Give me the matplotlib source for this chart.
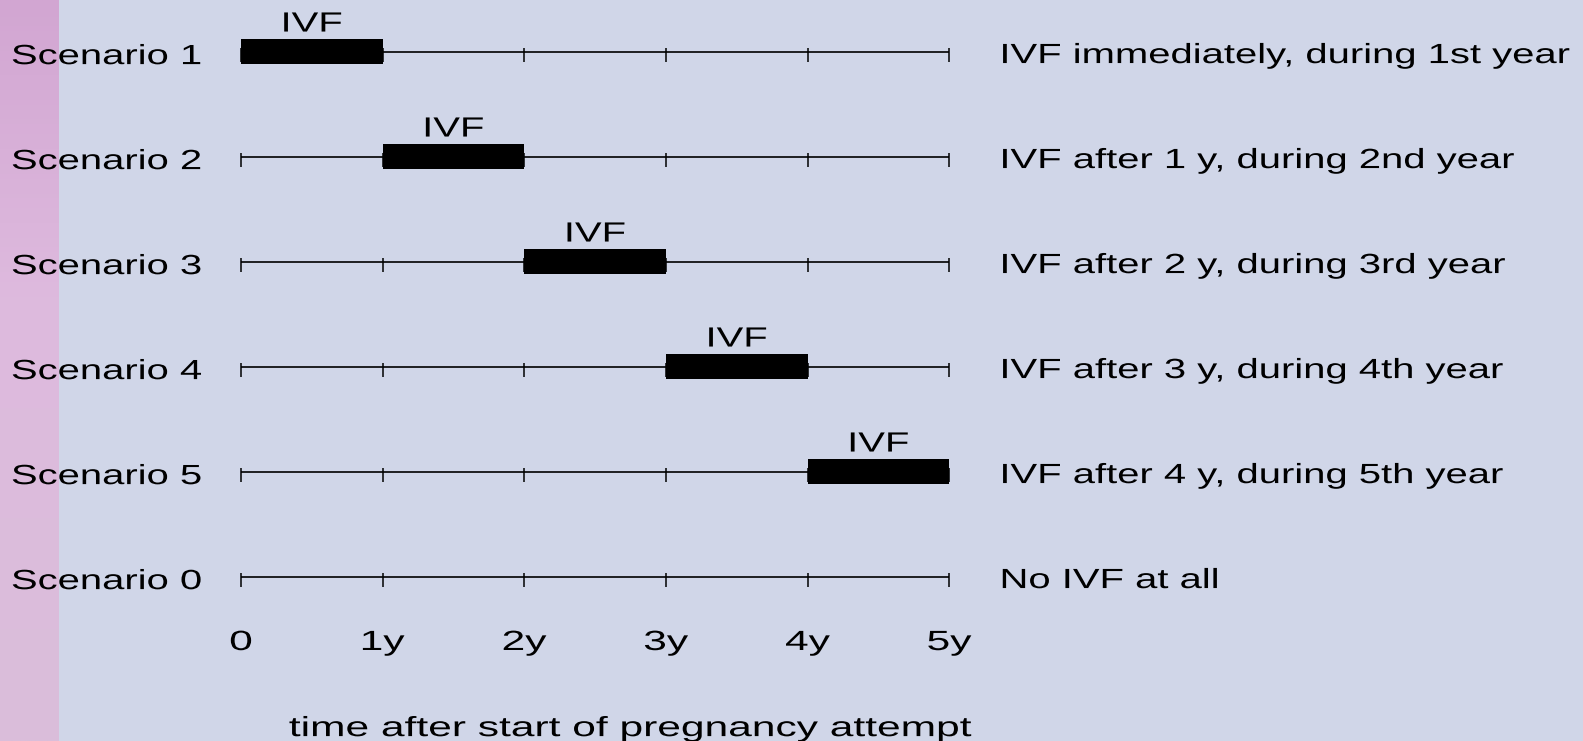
import numpy as np
import matplotlib
matplotlib.use("Agg")
from matplotlib import pyplot as plt
from matplotlib.patheffects import AbstractPathEffect
from matplotlib.transforms import Affine2D

plt.rcParams['font.family'] = ['Liberation Sans', 'DejaVu Sans']

scenarios = ["Scenario 1", "Scenario 2", "Scenario 3", "Scenario 4", "Scenario 5", "Scenario 0"]
ivf_start = [0, 1, 2, 3, 4, None]
ivf_length = 1
descriptions = ["IVF immediately, during 1st year",
                "IVF after 1 y, during 2nd year",
                "IVF after 2 y, during 3rd year",
                "IVF after 3 y, during 4th year",
                "IVF after 4 y, during 5th year",
                "No IVF at all"]
years = [0, 1, 2, 3, 4, 5]
year_labels = ["0", "1y", "2y", "3y", "4y", "5y"]
xlabel = "time after start of pregnancy attempt"


class Stretch(AbstractPathEffect):
    # widen the glyphs horizontally, the reference text is stretched
    def __init__(self, sx, anchor="left"):
        super().__init__()
        self.sx = sx
        self.anchor = anchor

    def draw_path(self, renderer, gc, tpath, affine, rgbFace=None):
        bb = tpath.get_extents(affine)
        x0 = bb.x0 if self.anchor == "left" else 0.5 * (bb.x0 + bb.x1)
        affine = affine + Affine2D().translate(-x0, 0).scale(self.sx, 1).translate(x0, 0)
        renderer.draw_path(gc, tpath, affine, rgbFace)


W, H = 1583, 741
bg = "#d0d6e8"
fig = plt.figure(figsize=(W / 100, H / 100), dpi=100, facecolor=bg)

# pink strip on the left
strip = fig.add_axes([0, 0, 59 / W, 1])
t = np.linspace(0, 1, 256)
cols = np.array([[210, 166, 210], [222, 186, 222], [218, 190, 218]]) / 255
img = np.stack([np.interp(t, [0, 0.4, 1], cols[:, k]) for k in range(3)], axis=-1)[:, None, :]
strip.imshow(img, aspect="auto", extent=[0, 1, 0, 1], origin="upper")
strip.axis("off")

ax = fig.add_axes([0, 0, 1, 1])
ax.patch.set_alpha(0)
ax.axis("off")

# pixel mapping: x=0 at 241px, x=5 at 949px; rows at 51.5px + 105px*i
x0px, x5px = 241, 949.3
ppu = (x5px - x0px) / 5
ax.set_xlim(-x0px / ppu, 5 + (W - x5px) / ppu)
row0, row = 51.5, 105
ax.set_ylim((H - row0) / row, -row0 / row)


def px(p):
    return (p - x0px) / ppu


fs = 20
s_lab = 1.44
s_axis = 1.53
for i, (name, start, desc) in enumerate(zip(scenarios, ivf_start, descriptions)):
    ax.plot([years[0], years[-1]], [i, i], color="black", lw=1.2, solid_capstyle="butt")
    ax.vlines(years, i - 0.035, i + 0.1, color="black", lw=1.1)
    ax.text(px(11.5), i + 0.12, name, fontsize=fs, va="baseline", ha="left",
            path_effects=[Stretch(s_lab)])
    ax.text(px(1000.5), i + 0.11, desc, fontsize=fs, va="baseline", ha="left",
            path_effects=[Stretch(s_lab)])
    if start is not None:
        ax.barh(i, ivf_length, left=start, height=0.238, color="black", align="center")
        ax.text(start + ivf_length / 2, i - 0.19, "IVF", fontsize=fs, ha="center",
                va="baseline", path_effects=[Stretch(s_lab, "center")])

for x, lab in zip(years, year_labels):
    ax.text(x, 5.70, lab, fontsize=fs, ha="center", va="baseline",
            path_effects=[Stretch(s_axis, "center")])

ax.text(px(629.5), 6.52, xlabel, fontsize=fs, ha="center", va="baseline",
        path_effects=[Stretch(s_axis, "center")])

fig.savefig("out.png", dpi=100, facecolor=bg)
